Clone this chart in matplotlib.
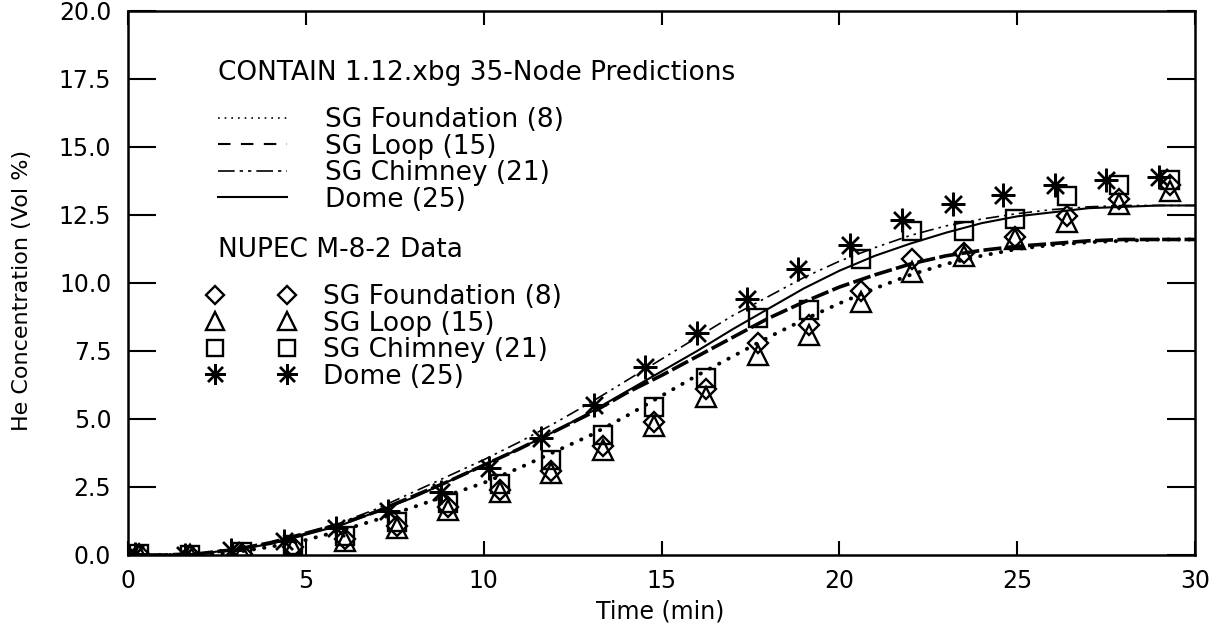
import numpy as np
import matplotlib
matplotlib.use("Agg")
import matplotlib.pyplot as plt
from matplotlib.lines import Line2D

# CONTAIN predictions, read every minute
t_model = np.arange(0, 31)
pred_foundation = [0, 0, 0, 0.1, 0.3, 0.55, 0.9, 1.3, 1.75, 2.2, 2.65, 3.2, 3.8, 4.4, 5.1,
                   5.85, 6.6, 7.3, 8.0, 8.65, 9.25, 9.8, 10.3, 10.7, 11.0, 11.25, 11.4, 11.5,
                   11.55, 11.6, 11.6]
pred_loop = [0, 0, 0.05, 0.2, 0.45, 0.8, 1.15, 1.6, 2.15, 2.7, 3.3, 3.9, 4.55, 5.2, 5.95,
             6.6, 7.3, 8.0, 8.7, 9.3, 9.85, 10.3, 10.7, 11.0, 11.2, 11.35, 11.45, 11.55,
             11.6, 11.6, 11.6]
pred_chimney = [0, 0, 0.05, 0.2, 0.45, 0.8, 1.2, 1.7, 2.3, 2.9, 3.5, 4.15, 4.85, 5.6, 6.4,
                7.2, 8.0, 8.8, 9.5, 10.2, 10.8, 11.3, 11.75, 12.1, 12.35, 12.55, 12.7, 12.8,
                12.85, 12.85, 12.85]
pred_dome = [0, 0, 0.05, 0.2, 0.4, 0.75, 1.1, 1.6, 2.1, 2.7, 3.3, 3.9, 4.55, 5.25, 6.0,
             6.75, 7.5, 8.3, 9.05, 9.8, 10.45, 11.0, 11.45, 11.85, 12.2, 12.45, 12.6, 12.75,
             12.8, 12.85, 12.85]

# NUPEC M-8-2 measurements
t_data = [0.3, 1.75, 3.2, 4.65, 6.1, 7.55, 9.0, 10.45, 11.9, 13.35, 14.8, 16.25, 17.7,
          19.15, 20.6, 22.05, 23.5, 24.95, 26.4, 27.85, 29.3]
t_dome = [0.2, 1.6, 2.9, 4.4, 5.85, 7.3, 8.8, 10.15, 11.6, 13.1, 14.55, 16.0, 17.4, 18.85,
          20.3, 21.75, 23.2, 24.6, 26.05, 27.5, 29.0]
data_foundation = [0.05, 0.0, 0.05, 0.3, 0.6, 1.05, 1.75, 2.4, 3.1, 4.0, 4.9, 6.1, 7.8,
                   8.45, 9.7, 10.9, 11.1, 11.7, 12.45, 13.1, 13.6]
data_loop = [0.0, 0.0, 0.05, 0.25, 0.5, 1.0, 1.65, 2.3, 3.0, 3.85, 4.75, 5.8, 7.35, 8.1,
             9.3, 10.4, 11.0, 11.6, 12.25, 12.9, 13.4]
data_chimney = [0.05, 0.0, 0.1, 0.35, 0.7, 1.2, 1.9, 2.6, 3.5, 4.4, 5.45, 6.5, 8.7, 9.0,
                10.9, 11.9, 11.9, 12.35, 13.2, 13.6, 13.8]
data_dome = [0.05, 0.0, 0.2, 0.5, 1.0, 1.6, 2.3, 3.2, 4.3, 5.5, 6.9, 8.15, 9.4, 10.5,
             11.4, 12.3, 12.9, 13.25, 13.6, 13.8, 13.9]

names = ["SG Foundation (8)", "SG Loop (15)", "SG Chimney (21)", "Dome (25)"]

plt.rcParams['font.family'] = ['DejaVu Sans']
FS = 19      # key text
TFS = 17     # tick labels

W, H = 1218, 631
fig = plt.figure(figsize=(W / 100, H / 100), dpi=100)
ax = fig.add_axes([128 / W, 1 - 555 / H, (1195 - 128) / W, (555 - 11) / H])

dot = (0, (0.1, 2.6))
dash = (0, (5, 1.2))
dashdot = (0, (8, 3, 1.5, 3, 1.5, 3))

ax.plot(t_model, pred_foundation, color='k', lw=2.8, linestyle=dot, dash_capstyle='round')
ax.plot(t_model, pred_loop, color='k', lw=2.6, linestyle=dash)
ax.plot(t_model, pred_chimney, color='k', lw=1.2, linestyle=dashdot)
ax.plot(t_model, pred_dome, color='k', lw=1.5, linestyle='-')

mk = dict(color='k', linestyle='none', fillstyle='none', markeredgewidth=1.7)
ax.plot(t_data, data_foundation, marker='D', markersize=10.5, **mk)
ax.plot(t_data, data_loop, marker='^', markersize=14, **mk)
ax.plot(t_data, data_chimney, marker='s', markersize=12.5, **mk)
ax.plot(t_dome, data_dome, marker=(8, 2, 0), markersize=17, **mk)

ax.set_xlim(0, 30)
ax.set_ylim(0, 20)
ax.set_xticks(np.arange(0, 31, 5))
ax.set_yticks(np.arange(0, 20.1, 2.5))
ax.set_yticklabels([f"{v:.1f}" for v in np.arange(0, 20.1, 2.5)])
ax.tick_params(labelsize=TFS)
ax.tick_params(axis='y', direction='in', length=20, width=1.5, right=True, pad=12)
ax.tick_params(axis='x', direction='in', length=10, width=1.5, top=True, pad=10)
for s in ax.spines.values():
    s.set_linewidth(1.8)

ax.set_xlabel("Time (min)", fontsize=17)
ax.xaxis.set_label_coords(0.4986, (555 - 600) / 544)
ax.set_ylabel("He Concentration (Vol %)", fontsize=16)
ax.yaxis.set_label_coords((32 - 128) / 1067, (555 - 290) / 544)

# headings of the two key blocks
fig.text(218 / W, 1 - 73 / H, "CONTAIN 1.12.xbg 35-Node Predictions", va='center', ha='left',
         fontsize=FS)
fig.text(218 / W, 1 - 250 / H, "NUPEC M-8-2 Data", va='center', ha='left', fontsize=FS)

line_handles = [
    Line2D([], [], color='k', lw=1.2, linestyle=(0, (1, 3))),
    Line2D([], [], color='k', lw=1.5, linestyle=(0, (6, 5))),
    Line2D([], [], color='k', lw=1.2, linestyle=(0, (10, 3, 2, 3, 2, 3))),
    Line2D([], [], color='k', lw=1.5, linestyle='-'),
]
leg1 = ax.legend(line_handles, names, loc='upper left', frameon=False,
                 bbox_to_anchor=(218 / W, 1 - 107 / H), bbox_transform=fig.transFigure,
                 borderpad=0, borderaxespad=0, labelspacing=0.02, handlelength=2.61,
                 handletextpad=1.44, fontsize=FS)
ax.add_artist(leg1)

marker_handles = [
    Line2D([], [], marker='D', markersize=9.5, **mk),
    Line2D([], [], marker='^', markersize=12.5, **mk),
    Line2D([], [], marker='s', markersize=11.5, **mk),
    Line2D([], [], marker=(8, 2, 0), markersize=15, **mk),
]
ax.legend(marker_handles, names, loc='upper left', frameon=False, numpoints=2,
          bbox_to_anchor=(207 / W, 1 - 284 / H), bbox_transform=fig.transFigure,
          borderpad=0, borderaxespad=0, labelspacing=0.02, handlelength=3.33,
          handletextpad=1.06, fontsize=FS)

fig.savefig("out.png", dpi=100)
